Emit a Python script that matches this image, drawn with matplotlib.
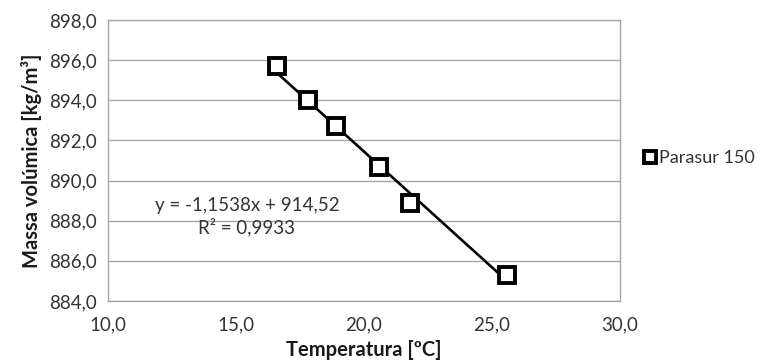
import numpy as np
import matplotlib
matplotlib.use("Agg")
import matplotlib.pyplot as plt

# data
temperatura = [16.6, 17.8, 18.9, 20.6, 21.8, 25.6]
massa = [895.7, 894.0, 892.7, 890.7, 888.9, 885.3]
slope = -1.1538
intercept = 914.52
r2 = 0.9933
serie = "Parasur 150"
x_ticks = [10, 15, 20, 25, 30]
y_ticks = [884, 886, 888, 890, 892, 894, 896, 898]

plt.rcParams['font.family'] = ['Lato', 'DejaVu Sans']

fig = plt.figure(figsize=(7.66, 3.62), dpi=100)
ax = fig.add_axes([108 / 766, 1 - 301 / 362, (620 - 108) / 766, (301 - 20) / 362])

# trendline over the data range
xl = np.array([min(temperatura), max(temperatura)])
ax.plot(xl, slope * xl + intercept, color='black', lw=1.9, zorder=3)
ax.plot(temperatura, massa, linestyle='none', marker='s', markersize=11,
        markerfacecolor='white', markeredgecolor='black', markeredgewidth=2.8,
        zorder=4, label=serie)

ax.set_xlim(10, 30)
ax.set_ylim(884, 898)
ax.set_xticks(x_ticks)
ax.set_yticks(y_ticks)
ax.set_xticklabels([f"{v:.1f}".replace('.', ',') for v in x_ticks])
ax.set_yticklabels([f"{v:.1f}".replace('.', ',') for v in y_ticks])
ax.tick_params(length=0, labelsize=13.5, colors='#333333', pad=8)
ax.tick_params(axis='x', pad=11)
ax.yaxis.grid(True, color='#a6a6a6', lw=1)
ax.set_axisbelow(True)
for s in ax.spines.values():
    s.set_color('#a6a6a6')
    s.set_linewidth(1)

ax.set_xlabel("Temperatura [ºC]", fontsize=14.5, fontweight='bold', color='#1a1a1a', labelpad=5)
ax.set_ylabel("Massa volúmica [kg/m³]", fontsize=14.5, fontweight='bold', color='#1a1a1a', labelpad=5)

eq = f"y = {slope:.4f}x + {intercept:.2f}".replace('.', ',')
r2txt = f"R² = {r2:.4f}".replace('.', ',')
fig.text(247 / 766, 1 - 217 / 362, eq + "\n" + r2txt, fontsize=13.5, color='#333333',
         ha='center', va='center', linespacing=1.25, multialignment='center')

fig.legend(loc='center left', bbox_to_anchor=(644 / 766, 1 - 158 / 362), frameon=False,
           fontsize=13, handlelength=0.7, handletextpad=0.15, markerscale=0.85,
           borderpad=0, borderaxespad=0, labelcolor='#333333')

fig.savefig("out.png", dpi=100)
